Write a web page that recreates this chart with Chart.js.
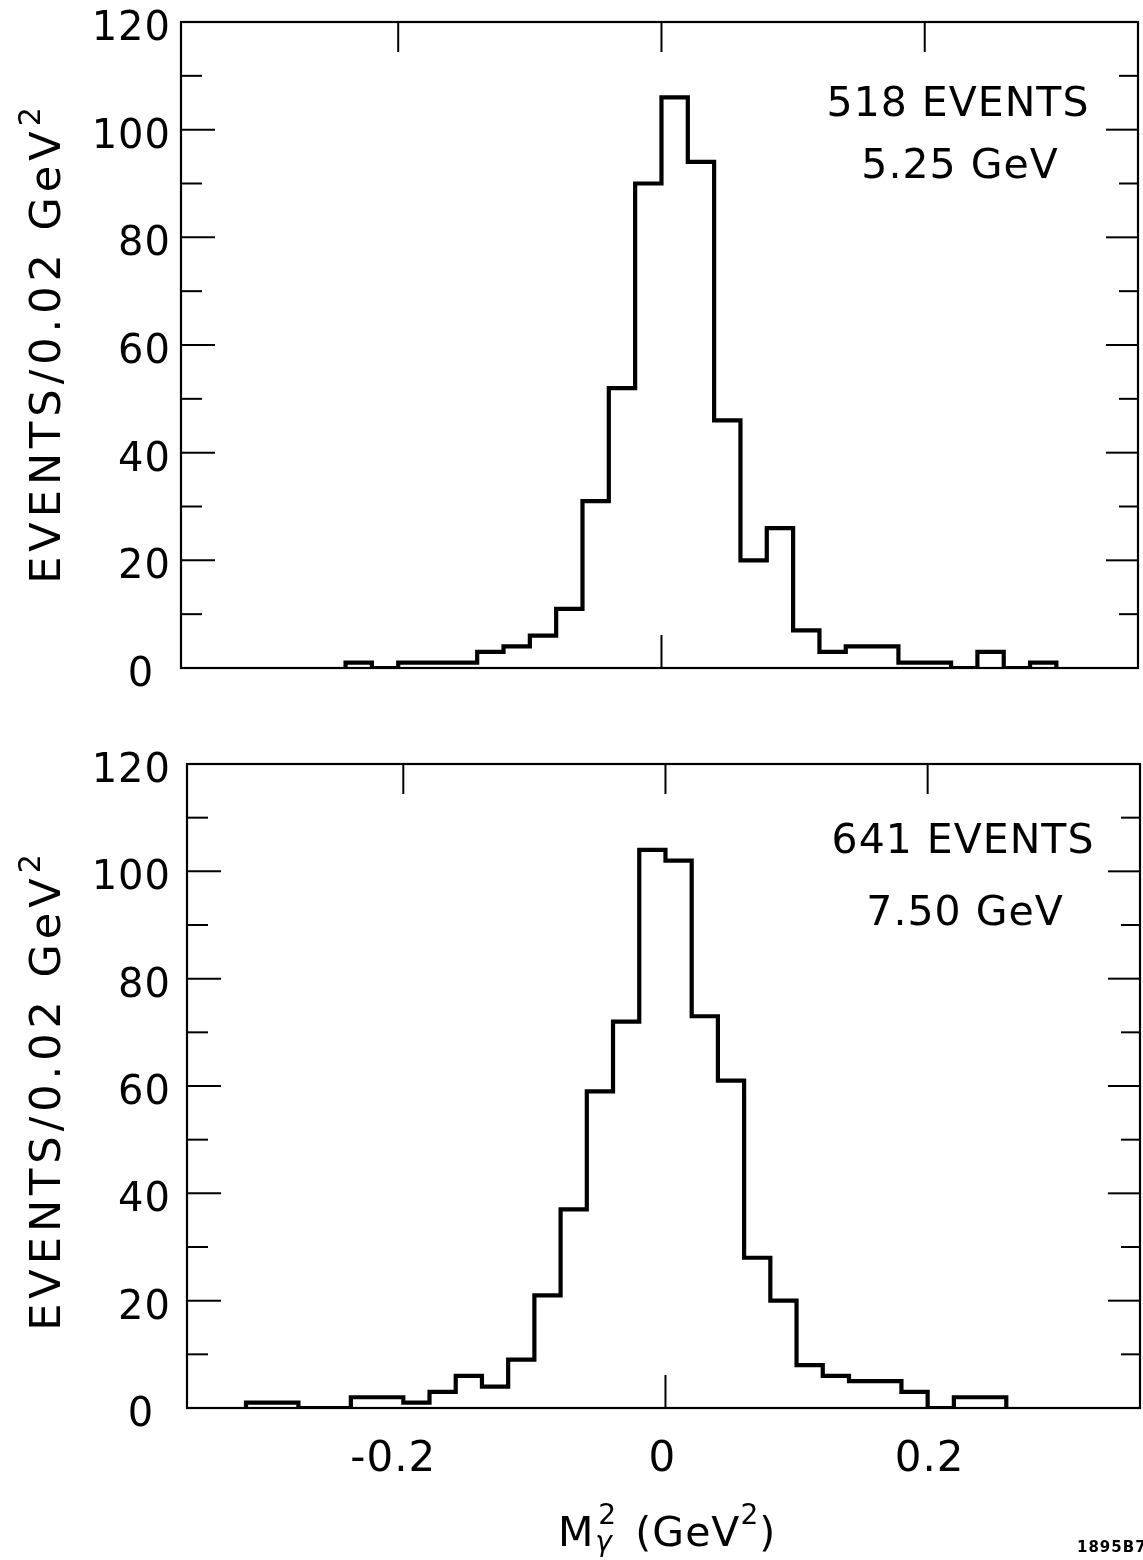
<!DOCTYPE html>
<html><head><meta charset="utf-8">
<script src="https://cdn.jsdelivr.net/npm/chart.js@4.4.1/dist/chart.umd.min.js"></script>
<style>
html,body{margin:0;padding:0;background:#fff;}
#wrap{position:relative;width:1143px;height:1560px;overflow:hidden;background:#fff;}
.pane{position:absolute;left:0;width:1143px;}
</style></head><body>
<div id="wrap">
<div class="pane" style="top:0;height:740px"><canvas id="cTop" width="1143" height="740"></canvas></div>
<div class="pane" style="top:740px;height:820px"><canvas id="cBot" width="1143" height="820"></canvas></div>
</div>
<script>
// ---- data (bin left edges in GeV^2, counts per 0.02 GeV^2) ----
const binWidth = 0.02;
const topEdges = [-0.24,-0.22,-0.20,-0.18,-0.16,-0.14,-0.12,-0.10,-0.08,-0.06,-0.04,-0.02,0.00,0.02,0.04,0.06,0.08,0.10,0.12,0.14,0.16,0.18,0.20,0.22,0.24,0.26,0.28];
const topCounts = [1,0,1,1,1,3,4,6,11,31,52,90,106,94,46,20,26,7,3,4,4,1,1,0,3,0,1];
const botEdges = [-0.32,-0.30,-0.28,-0.26,-0.24,-0.22,-0.20,-0.18,-0.16,-0.14,-0.12,-0.10,-0.08,-0.06,-0.04,-0.02,0.00,0.02,0.04,0.06,0.08,0.10,0.12,0.14,0.16,0.18,0.20,0.22,0.24];
const botCounts = [1,1,0,0,2,2,1,3,6,4,9,21,37,59,72,104,102,73,61,28,20,8,6,5,5,3,0,2,2];
const yTickValues = [0,20,40,60,80,100,120];
const yTickLabels = ['0','20','40','60','80','100','120'];
const yMinorStep = 10;
const xTickValues = [-0.2,0,0.2];
const xTickLabels = ['-0.2','0','0.2'];
const topNote = ['518 EVENTS','5.25 GeV'];
const botNote = ['641 EVENTS','7.50 GeV'];

const FONT = '"DejaVu Sans", "Liberation Sans", sans-serif';

function histPoints(edges, counts){
  const pts = [{x: edges[0], y: 0}];
  edges.forEach((e,i)=>pts.push({x: e, y: counts[i]}));
  pts.push({x: edges[edges.length-1] + binWidth, y: 0});
  return pts;
}

const decoPlugin = {
  id: 'deco',
  afterDatasetsDraw(chart, args, o){
    const ctx = chart.ctx, a = chart.chartArea;
    const xs = chart.scales.x, ys = chart.scales.y;
    ctx.save();
    ctx.strokeStyle = '#000'; ctx.fillStyle = '#000';
    // frame
    ctx.lineWidth = 2.2;
    ctx.strokeRect(a.left, a.top, a.right - a.left, a.bottom - a.top);
    // y ticks, both sides, inward
    ctx.lineWidth = 2;
    for (let v = yMinorStep; v < 120; v += yMinorStep){
      const y = ys.getPixelForValue(v);
      const major = yTickValues.includes(v);
      const L = major ? 34 : 21;
      const LR = major ? 32 : 19;
      ctx.beginPath(); ctx.moveTo(a.left, y); ctx.lineTo(a.left + L, y); ctx.stroke();
      ctx.beginPath(); ctx.moveTo(a.right, y); ctx.lineTo(a.right - LR, y); ctx.stroke();
    }
    // x ticks on top (all), bottom (centre only)
    xTickValues.forEach(v=>{
      const x = xs.getPixelForValue(v);
      ctx.beginPath(); ctx.moveTo(x, a.top); ctx.lineTo(x, a.top + 30); ctx.stroke();
      if (v === 0){
        ctx.beginPath(); ctx.moveTo(x, a.bottom); ctx.lineTo(x, a.bottom - 33); ctx.stroke();
      }
    });
    // y tick labels
    ctx.font = '40px ' + FONT;
    ctx.letterSpacing = '1px';
    ctx.textBaseline = 'alphabetic';
    yTickValues.forEach((v,i)=>{
      const y = ys.getPixelForValue(v);
      const s = yTickLabels[i];
      if (s.length > 1){ ctx.textAlign = 'right'; ctx.fillText(s, o.labelRight, y + 18); }
      else { ctx.textAlign = 'center'; ctx.fillText(s, o.labelCenter, y + 18); }
    });
    // y title (rotated)
    ctx.save();
    ctx.translate(o.titleX, o.titleY);
    ctx.rotate(-Math.PI/2);
    ctx.font = '43px ' + FONT;
    ctx.letterSpacing = '5px';
    ctx.textAlign = 'left';
    const t1 = 'EVENTS/0.02 GeV';
    const w1 = ctx.measureText(t1).width;
    ctx.font = '30px ' + FONT;
    const w2 = ctx.measureText('2').width;
    const start = -(w1 + w2)/2;
    ctx.font = '43px ' + FONT;
    ctx.fillText(t1, start, 0);
    ctx.font = '30px ' + FONT;
    ctx.fillText('2', start + w1, -20);
    ctx.restore();
    // annotation
    ctx.font = '41px ' + FONT;
    ctx.letterSpacing = '1px';
    ctx.textAlign = 'center';
    ctx.fillText(o.note[0], o.noteX, o.noteY[0]);
    ctx.fillText(o.note[1], o.noteX + 2, o.noteY[1]);
    ctx.letterSpacing = '0px';
    // x tick labels + title (bottom panel only)
    if (o.xLabels){
      ctx.font = '42px ' + FONT;
      ctx.letterSpacing = '1px';
      ctx.textAlign = 'center';
      xTickValues.forEach((v,i)=>{
        const x = xs.getPixelForValue(v) + (v < 0 ? -10 : (v > 0 ? 2 : -3));
        ctx.fillText(xTickLabels[i], x, a.bottom + 63);
      });
      ctx.letterSpacing = '0px';
      // x title: M^2_gamma (GeV^2)
      const base = a.bottom + 138;
      let x = 558;
      ctx.textAlign = 'left';
      ctx.font = '41px ' + FONT;
      ctx.fillText('M', x, base);
      x += ctx.measureText('M').width + 2;
      ctx.font = '28px ' + FONT;
      ctx.fillText('2', x + 3, base - 22);
      ctx.font = 'italic 28px ' + FONT;
      ctx.fillText('γ', x, base + 5);
      x += 40;
      ctx.font = '41px ' + FONT;
      ctx.letterSpacing = '1px';
      ctx.fillText('(GeV', x, base);
      x += ctx.measureText('(GeV').width;
      ctx.letterSpacing = '0px';
      ctx.font = '28px ' + FONT;
      ctx.fillText('2', x, base - 22);
      x += ctx.measureText('2').width + 1;
      ctx.font = '41px ' + FONT;
      ctx.fillText(')', x, base);
      // catalogue number
      ctx.font = 'bold 15px ' + FONT;
      ctx.letterSpacing = '1px';
      ctx.fillText('1895B7', 1077, base + 6);
      ctx.letterSpacing = '0px';
    }
    ctx.restore();
  }
};

function makeChart(id, edges, counts, pad, deco){
  return new Chart(document.getElementById(id), {
    type: 'line',
    data: { datasets: [{
      data: histPoints(edges, counts),
      stepped: 'before',
      borderColor: '#000',
      borderWidth: 4.2,
      borderJoinStyle: 'miter',
      borderCapStyle: 'butt',
      pointRadius: 0,
      fill: false,
      tension: 0
    }]},
    options: {
      responsive: false,
      animation: false,
      events: [],
      layout: { padding: pad },
      plugins: { legend: {display:false}, tooltip: {enabled:false}, deco: deco },
      scales: {
        x: { type: 'linear', min: -0.365, max: 0.362, display: false },
        y: { type: 'linear', min: 0, max: 120, display: false }
      }
    },
    plugins: [decoPlugin]
  });
}

makeChart('cTop', topEdges, topCounts, {left:181, top:22, right:5, bottom:72},
  {labelRight:171, labelCenter:141, titleX:60, titleY:343, note:topNote, noteX:958, noteY:[116,178], xLabels:false});
makeChart('cBot', botEdges, botCounts, {left:187, top:24, right:3, bottom:152},
  {labelRight:171, labelCenter:141, titleX:60, titleY:350, note:botNote, noteX:963, noteY:[113,185], xLabels:true});
</script>
</body></html>
